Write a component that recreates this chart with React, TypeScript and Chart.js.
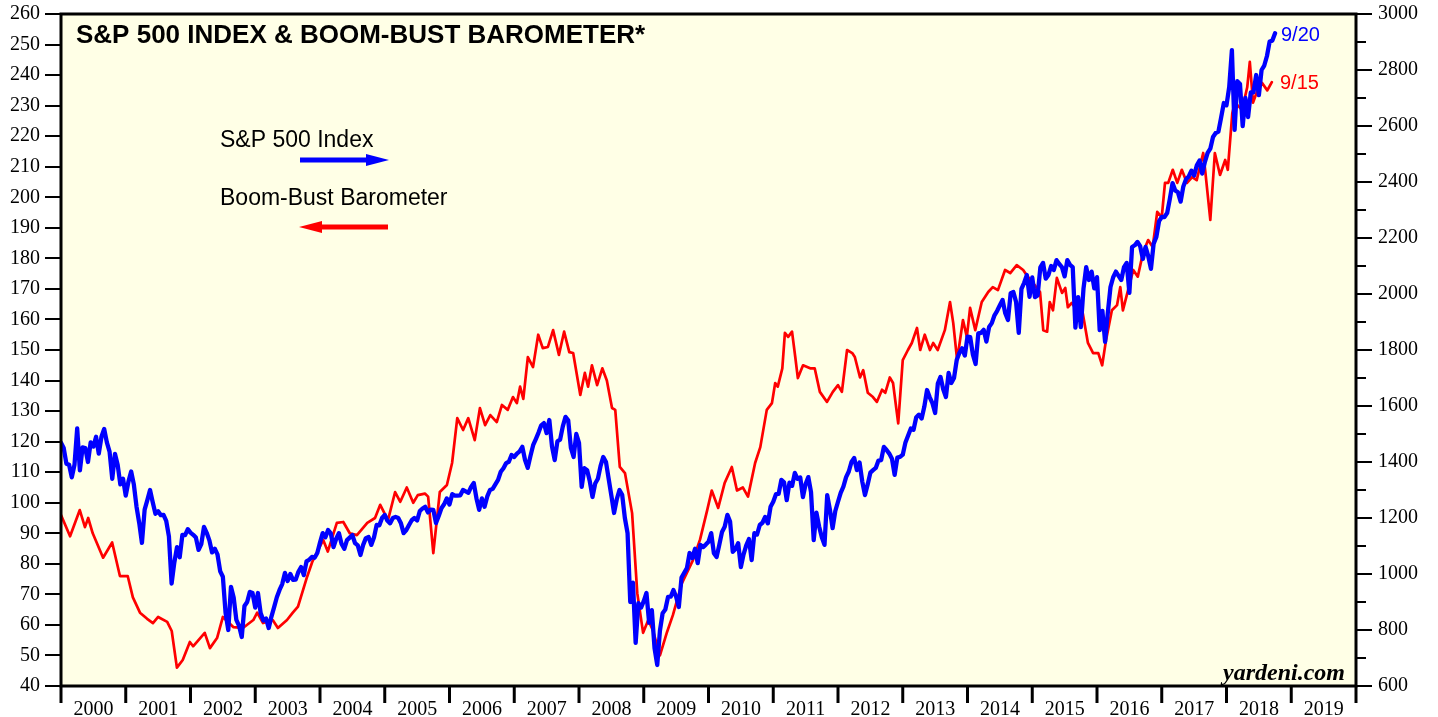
import React, { useEffect, useRef } from 'react';
import { Chart, registerables } from 'chart.js';

Chart.register(...registerables);

// ---- Axis definitions ----
const yearLabels: number[] = [2000, 2001, 2002, 2003, 2004, 2005, 2006, 2007, 2008, 2009, 2010, 2011, 2012, 2013, 2014, 2015, 2016, 2017, 2018, 2019];
const leftTicks: number[] = [40, 50, 60, 70, 80, 90, 100, 110, 120, 130, 140, 150, 160, 170, 180, 190, 200, 210, 220, 230, 240, 250, 260];
const rightTicks: number[] = [600, 800, 1000, 1200, 1400, 1600, 1800, 2000, 2200, 2400, 2600, 2800, 3000];
const rightMinorTicks: number[] = [700, 900, 1100, 1300, 1500, 1700, 1900, 2100, 2300, 2500, 2700, 2900];

// ---- S&P 500 index, half-monthly (first value = start of 2000, then mid/end of each month) ----
const spxStart = 2000;
const spxPerYear = 24;
const spx: number[] = [
  1469,
  1450, 1394, 1390, 1345, 1390, 1520, 1370, 1452, 1450, 1400, 1470, 1455, 1490, 1430, 1490, 1518, 1470, 1437, 1340, 1429, 1390, 1320, 1340, 1280,
  1330, 1366, 1320, 1240, 1182, 1111, 1230, 1264, 1300, 1256, 1215, 1224, 1210, 1211, 1190, 1134, 966, 1041, 1096, 1060, 1140, 1139, 1160, 1148,
  1140, 1130, 1086, 1107, 1168, 1147, 1120, 1077, 1090, 1070, 1010, 990, 861, 800, 954, 916, 836, 815, 775, 886, 900, 936, 932, 880,
  932, 861, 834, 841, 807, 848, 882, 917, 943, 964, 1004, 975, 1000, 979, 980, 1008, 1025, 996, 1045, 1051, 1061, 1058, 1075, 1112,
  1146, 1131, 1157, 1145, 1096, 1126, 1146, 1107, 1090, 1121, 1130, 1139, 1110, 1102, 1068, 1104, 1128, 1132, 1104, 1130, 1175, 1174, 1200, 1211,
  1190, 1181, 1200, 1204, 1200, 1181, 1146, 1157, 1175, 1192, 1200, 1191, 1225, 1234, 1240, 1220, 1230, 1229, 1182, 1207, 1235, 1249, 1270, 1248,
  1285, 1280, 1280, 1281, 1300, 1295, 1290, 1311, 1325, 1270, 1229, 1270, 1240, 1277, 1300, 1304, 1320, 1336, 1365, 1378, 1396, 1401, 1425, 1418,
  1430, 1438, 1454, 1407, 1379, 1421, 1460, 1482, 1505, 1531, 1539, 1503, 1550, 1455, 1407, 1474, 1480, 1527, 1561, 1549, 1450, 1418, 1500, 1468,
  1311, 1378, 1371, 1331, 1275, 1323, 1340, 1386, 1418, 1400, 1340, 1280, 1218, 1267, 1300, 1283, 1200, 1146, 900, 969, 754, 896, 880, 903,
  932, 826, 871, 735, 675, 798, 860, 873, 918, 919, 943, 919, 882, 987, 1004, 1021, 1075, 1057, 1090, 1039, 1104, 1096, 1105, 1115,
  1146, 1074, 1061, 1104, 1150, 1169, 1211, 1187, 1079, 1089, 1110, 1025, 1070, 1102, 1125, 1050, 1146, 1141, 1175, 1183, 1204, 1181, 1240, 1258,
  1285, 1286, 1336, 1327, 1264, 1326, 1315, 1361, 1340, 1345, 1275, 1321, 1346, 1292, 1121, 1219, 1170, 1131, 1104, 1282, 1230, 1164, 1225, 1258,
  1290, 1312, 1346, 1366, 1400, 1414, 1371, 1398, 1330, 1282, 1320, 1362, 1371, 1379, 1405, 1407, 1454, 1443, 1430, 1412, 1354, 1416, 1418, 1426,
  1470, 1495, 1520, 1515, 1560, 1569, 1555, 1598, 1657, 1631, 1610, 1575, 1680, 1704, 1660, 1632, 1718, 1682, 1700, 1764, 1790, 1806, 1780, 1848,
  1846, 1783, 1750, 1859, 1861, 1872, 1830, 1882, 1896, 1924, 1940, 1960, 1979, 1931, 1907, 2003, 2007, 1972, 1861, 2018, 2040, 2068, 1990, 2059,
  1989, 1995, 2095, 2111, 2055, 2068, 2100, 2086, 2121, 2107, 2096, 2063, 2121, 2104, 2096, 1880, 1989, 1882, 2020, 2096, 2050, 2080, 2020, 2060,
  1871, 1940, 1829, 1932, 2025, 2060, 2080, 2065, 2050, 2096, 2111, 2004, 2168, 2174, 2186, 2171, 2125, 2168, 2135, 2090, 2180, 2204, 2260, 2275,
  2275, 2289, 2340, 2396, 2370, 2363, 2330, 2384, 2410, 2420, 2440, 2423, 2460, 2477, 2430, 2472, 2504, 2519, 2561, 2575, 2580, 2630, 2682, 2674,
  2739, 2871, 2586, 2760, 2750, 2600, 2700, 2632, 2720, 2720, 2782, 2710, 2800, 2816, 2850, 2902, 2905, 2931,
];

// ---- Boom-Bust Barometer: [decimal year, value] ----
const bbb: [number, number][] = [
  [2000.00, 96], [2000.14, 89], [2000.29, 97.6], [2000.37, 92], [2000.42, 95], [2000.49, 90], [2000.65, 82], [2000.79, 87], [2000.91, 76],
  [2001.03, 76], [2001.11, 69], [2001.22, 64], [2001.33, 62], [2001.42, 60.6], [2001.50, 62.6], [2001.64, 61], [2001.71, 58], [2001.79, 46], [2001.88, 48.5], [2001.99, 54.4],
  [2002.04, 53], [2002.22, 57.4], [2002.30, 52.4], [2002.41, 55.7], [2002.50, 62.6], [2002.66, 59.3], [2002.81, 59], [2002.97, 61.6],
  [2003.03, 64], [2003.12, 60.6], [2003.27, 61.6], [2003.35, 59], [2003.49, 61.6], [2003.58, 64], [2003.66, 66], [2003.80, 75.7], [2003.88, 80.6],
  [2004.05, 87.8], [2004.12, 84], [2004.26, 93.4], [2004.36, 93.7], [2004.46, 90], [2004.57, 89.4], [2004.73, 93.4], [2004.85, 95], [2004.93, 99.3],
  [2005.05, 94.3], [2005.16, 103.5], [2005.24, 100.3], [2005.34, 105], [2005.44, 100], [2005.51, 102.5], [2005.62, 103], [2005.67, 102], [2005.75, 83.5], [2005.85, 103.5], [2005.96, 105.8],
  [2006.04, 113], [2006.12, 127.7], [2006.21, 123.8], [2006.29, 127.7], [2006.39, 120.5], [2006.47, 131], [2006.55, 125.4], [2006.63, 128.7], [2006.73, 126.4], [2006.81, 132], [2006.90, 130.4], [2006.98, 134.6],
  [2007.04, 132.6], [2007.09, 138], [2007.14, 134], [2007.21, 147.7], [2007.29, 144.4], [2007.37, 155], [2007.44, 150.6], [2007.52, 151], [2007.60, 156.5], [2007.69, 148.4], [2007.77, 156], [2007.85, 149.3], [2007.91, 149],
  [2008.02, 135.3], [2008.09, 142.5], [2008.14, 138], [2008.20, 145], [2008.28, 138.5], [2008.36, 144], [2008.43, 140], [2008.51, 131], [2008.56, 130.4], [2008.63, 111.7], [2008.71, 109.7], [2008.82, 96.6], [2008.90, 70.4], [2008.99, 57.4],
  [2009.07, 61.6], [2009.14, 58.3], [2009.25, 50], [2009.36, 57.7], [2009.45, 63.2], [2009.59, 73.7], [2009.76, 81.2], [2009.87, 88], [2009.98, 97.6],
  [2010.05, 104], [2010.15, 98.3], [2010.25, 106.5], [2010.36, 111.7], [2010.44, 104], [2010.53, 105], [2010.61, 102], [2010.72, 113], [2010.80, 118.2], [2010.90, 130.4], [2010.98, 132.6],
  [2011.03, 139.2], [2011.07, 138], [2011.14, 144], [2011.18, 155.6], [2011.23, 154.3], [2011.29, 156], [2011.34, 147.7], [2011.38, 140.8], [2011.46, 145], [2011.57, 144], [2011.64, 144], [2011.72, 136.3], [2011.83, 133], [2011.92, 136.3],
  [2012.00, 138.5], [2012.06, 136.3], [2012.14, 150], [2012.22, 149], [2012.26, 147.7], [2012.34, 141], [2012.39, 143.4], [2012.46, 136], [2012.54, 134.6], [2012.60, 133], [2012.68, 137], [2012.73, 136], [2012.80, 141], [2012.85, 139.2], [2012.93, 126],
  [2013.00, 146.7], [2013.08, 150], [2013.14, 152.3], [2013.22, 157.2], [2013.27, 150], [2013.34, 155], [2013.42, 150], [2013.47, 152.3], [2013.54, 150], [2013.65, 156.5], [2013.73, 165.7], [2013.78, 158.8], [2013.84, 146.7], [2013.93, 159.8], [2013.99, 154.3],
  [2014.04, 163.8], [2014.12, 156.5], [2014.22, 165.7], [2014.32, 169], [2014.39, 170.6], [2014.47, 169.6], [2014.58, 176.2], [2014.66, 175.2], [2014.76, 177.8], [2014.86, 176.2], [2014.93, 174],
  [2015.01, 172], [2015.12, 169], [2015.17, 156.5], [2015.23, 156], [2015.27, 165.7], [2015.32, 163], [2015.38, 173.6], [2015.46, 168.7], [2015.51, 170.3], [2015.55, 164], [2015.61, 165.4], [2015.69, 163], [2015.78, 162], [2015.86, 152.3], [2015.94, 149],
  [2016.02, 149], [2016.08, 145], [2016.14, 153.3], [2016.23, 163], [2016.31, 164.7], [2016.36, 170.6], [2016.40, 163], [2016.48, 169.6], [2016.56, 176.2], [2016.63, 174], [2016.71, 181.8], [2016.79, 186], [2016.86, 183.7], [2016.93, 195.2],
  [2017.00, 193.5], [2017.05, 204.7], [2017.10, 204.7], [2017.17, 209], [2017.24, 204.7], [2017.31, 209], [2017.39, 204.7], [2017.47, 206.6], [2017.54, 205.6], [2017.64, 214.5], [2017.67, 209], [2017.75, 192.6], [2017.82, 214.5], [2017.90, 207.3], [2017.98, 212.2],
  [2018.02, 209], [2018.09, 227.6], [2018.13, 231], [2018.24, 228.6], [2018.32, 236], [2018.36, 244.3], [2018.41, 231], [2018.47, 234.5], [2018.55, 237.4], [2018.63, 235], [2018.70, 237.7],
];

const title = 'S&P 500 INDEX & BOOM-BUST BAROMETER*';
const spxName = 'S&P 500 Index';
const bbbName = 'Boom-Bust Barometer';
const spxDateLabel = '9/20';
const bbbDateLabel = '9/15';
const source = 'yardeni.com';

const BLUE = '#0000ff';
const RED = '#ff0000';
const PLOT_BG = '#ffffe6';
const SANS = '"Liberation Sans", Arial, Helvetica, sans-serif';
const SERIF = '"Liberation Serif", "Times New Roman", serif';

const decorPlugin = {
  id: 'decor',
  beforeDraw(chart: any) {
    const { ctx, chartArea: a } = chart;
    ctx.save();
    ctx.fillStyle = '#ffffff';
    ctx.fillRect(0, 0, chart.width, chart.height);
    ctx.fillStyle = PLOT_BG;
    ctx.fillRect(a.left, a.top, a.right - a.left, a.bottom - a.top);
    ctx.restore();
  },
  afterDatasetsDraw(chart: any) {
    const { ctx, chartArea: a, scales } = chart;
    const yL = scales.yL, yR = scales.yR, x = scales.x;
    ctx.save();
    ctx.strokeStyle = '#000';
    // left ticks
    ctx.lineWidth = 2;
    leftTicks.forEach((v) => {
      const y = Math.round(yL.getPixelForValue(v));
      ctx.beginPath(); ctx.moveTo(a.left - 16, y); ctx.lineTo(a.left, y); ctx.stroke();
    });
    rightTicks.forEach((v) => {
      const y = Math.round(yR.getPixelForValue(v));
      ctx.beginPath(); ctx.moveTo(a.right, y); ctx.lineTo(a.right + 16, y); ctx.stroke();
    });
    rightMinorTicks.forEach((v) => {
      const y = Math.round(yR.getPixelForValue(v));
      ctx.beginPath(); ctx.moveTo(a.right, y); ctx.lineTo(a.right + 10, y); ctx.stroke();
    });
    ctx.lineWidth = 3;
    for (let yr = 2000; yr <= 2020; yr++) {
      const px = x.getPixelForValue(yr);
      ctx.beginPath(); ctx.moveTo(px, a.bottom); ctx.lineTo(px, a.bottom + 17); ctx.stroke();
    }
    // frame
    ctx.lineWidth = 3;
    ctx.strokeRect(a.left, a.top, a.right - a.left, a.bottom - a.top);

    // title
    ctx.fillStyle = '#000';
    ctx.textBaseline = 'alphabetic';
    ctx.textAlign = 'left';
    ctx.font = `bold 26px ${SANS}`;
    ctx.fillText(title, 76, 43);

    // legend
    ctx.font = `23px ${SANS}`;
    ctx.fillText(spxName, 220, 147);
    ctx.fillText(bbbName, 220, 205);
    // blue arrow (right)
    ctx.strokeStyle = BLUE; ctx.fillStyle = BLUE; ctx.lineWidth = 5;
    ctx.beginPath(); ctx.moveTo(300, 160); ctx.lineTo(370, 160); ctx.stroke();
    ctx.beginPath(); ctx.moveTo(366, 154); ctx.lineTo(389, 160); ctx.lineTo(366, 166); ctx.closePath(); ctx.fill();
    // red arrow (left)
    ctx.strokeStyle = RED; ctx.fillStyle = RED;
    ctx.beginPath(); ctx.moveTo(318, 227); ctx.lineTo(388, 227); ctx.stroke();
    ctx.beginPath(); ctx.moveTo(322, 221); ctx.lineTo(299, 227); ctx.lineTo(322, 233); ctx.closePath(); ctx.fill();

    // end labels
    ctx.font = `20px ${SANS}`;
    ctx.fillStyle = BLUE;
    ctx.fillText(spxDateLabel, 1281, 41);
    ctx.fillStyle = RED;
    ctx.fillText(bbbDateLabel, 1280, 89);

    // source
    ctx.fillStyle = '#000';
    ctx.textAlign = 'right';
    ctx.font = `italic bold 24px ${SERIF}`;
    ctx.fillText(source, 1345, 680);
    ctx.restore();
  },
};

export default function App() {
  const ref = useRef<HTMLCanvasElement | null>(null);

  useEffect(() => {
    document.body.style.margin = '0';
    const canvas = ref.current;
    if (!canvas) return;

    const spxData = spx.map((v, i) => ({ x: spxStart + i / spxPerYear, y: v }));
    const bbbData = bbb.map(([d, v]) => ({ x: d, y: v }));

    const vertFit = (w: number) => (s: any) => {
      s.width = w;
      s.paddingTop = 0;
      s.paddingBottom = 0;
    };

    const chart = new Chart(canvas, {
      type: 'line',
      data: {
        datasets: [
          {
            label: spxName,
            data: spxData,
            yAxisID: 'yR',
            borderColor: BLUE,
            borderWidth: 4.3,
            pointRadius: 0,
            tension: 0,
            borderJoinStyle: 'round',
            borderCapStyle: 'round',
          },
          {
            label: bbbName,
            data: bbbData,
            yAxisID: 'yL',
            borderColor: RED,
            borderWidth: 2.7,
            pointRadius: 0,
            tension: 0,
            borderJoinStyle: 'round',
            borderCapStyle: 'round',
          },
        ],
      },
      options: {
        responsive: false,
        maintainAspectRatio: false,
        animation: false,
        devicePixelRatio: 1,
        layout: { padding: { top: 14, left: 0, right: 0, bottom: 0 } },
        plugins: {
          legend: { display: false },
          tooltip: { enabled: false },
          title: { display: false },
        },
        scales: {
          x: {
            type: 'linear',
            position: 'bottom',
            min: 2000,
            max: 2020,
            afterBuildTicks: (s: any) => { s.ticks = yearLabels.map((y) => ({ value: y + 0.5 })); },
            afterFit: (s: any) => { s.height = 31; s.paddingLeft = 0; s.paddingRight = 0; },
            ticks: {
              autoSkip: false,
              maxRotation: 0,
              padding: 12,
              color: '#000',
              font: { family: SERIF, size: 20 },
              callback: (v: any) => String(Math.floor(Number(v))),
            },
            grid: { display: false, drawTicks: false },
            border: { display: false },
          },
          yL: {
            type: 'linear',
            position: 'left',
            min: 40,
            max: 260,
            afterBuildTicks: (s: any) => { s.ticks = leftTicks.map((v) => ({ value: v })); },
            afterFit: vertFit(61),
            ticks: {
              padding: 21,
              color: '#000',
              font: { family: SERIF, size: 20 },
            },
            grid: { display: false, drawTicks: false },
            border: { display: false },
          },
          yR: {
            type: 'linear',
            position: 'right',
            min: 600,
            max: 3000,
            afterBuildTicks: (s: any) => { s.ticks = rightTicks.map((v) => ({ value: v })); },
            afterFit: vertFit(82),
            ticks: {
              padding: 22,
              color: '#000',
              font: { family: SERIF, size: 20 },
              callback: (v: any) => String(v),
            },
            grid: { display: false, drawTicks: false },
            border: { display: false },
          },
        },
      },
      plugins: [decorPlugin],
    });

    return () => chart.destroy();
  }, []);

  return (
    <div style={{ width: 1438, height: 717 }}>
      <canvas ref={ref} width={1438} height={717} style={{ display: 'block' }} />
    </div>
  );
}
